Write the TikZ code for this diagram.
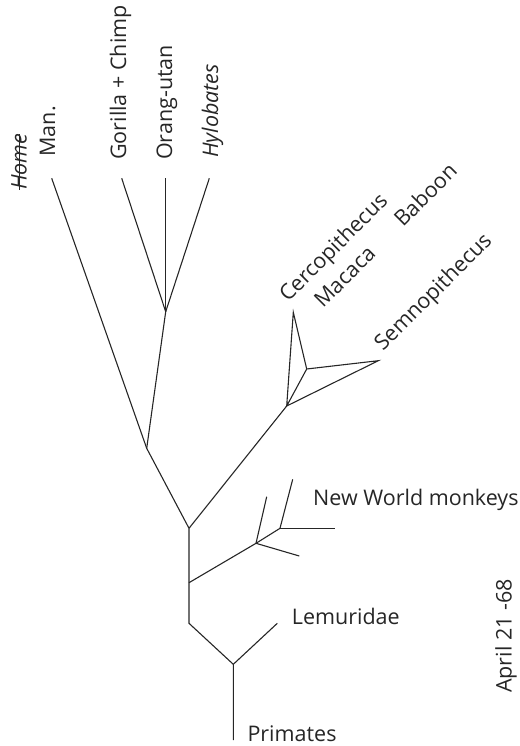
\documentclass[tikz,border=0pt]{standalone}
\usepackage{fontspec}
\setmainfont{Open Sans}
\begin{document}
\begin{tikzpicture}[x=1pt,y=-1pt,
  branch/.style={line width=1.1pt,draw=black!85},
  taxon/.style={inner sep=0pt,font=\fontsize{21.5}{24}\selectfont,text=black!85},
  up/.style={taxon,rotate=90,anchor=base west},
  slant/.style={taxon,rotate=45,anchor=base west},
  flat/.style={taxon,anchor=base west}]
\useasboundingbox (0,0) rectangle (519,746);

% branch points
\coordinate (root)   at (233.3,740);
\coordinate (prim)   at (233.3,664.3);
\coordinate (lemur)  at (277.3,623.3);
\coordinate (stemA)  at (189,623.3);
\coordinate (nwfork) at (189,582.7);
\coordinate (stemB)  at (189,528.3);
\coordinate (nw1)    at (256,543.3);
\coordinate (nw1a)   at (266.7,496.7);
\coordinate (nw2)    at (280,528.3);
\coordinate (nw1b)   at (299.3,556);
\coordinate (nw2a)   at (292.7,479.3);
\coordinate (nw2b)   at (335,528.3);
\coordinate (owm)    at (286.7,406);
\coordinate (owtop)  at (293.3,312.3);
\coordinate (owin)   at (306.7,369);
\coordinate (owright) at (378.3,360.7);
\coordinate (hom)    at (146.7,448.3);
\coordinate (man)    at (51.7,178.3);
\coordinate (apes)   at (165.7,311.7);
\coordinate (gor)    at (121.7,178.3);
\coordinate (ora)    at (165.7,178.3);
\coordinate (hyl)    at (209.3,178.3);

% the tree
\draw[branch] (root) -- (prim) -- (lemur);
\draw[branch] (prim) -- (stemA) -- (nwfork) -- (stemB);
\draw[branch] (nwfork) -- (nw1) -- (nw1a);
\draw[branch] (nw1) -- (nw1b);
\draw[branch] (nw1) -- (nw2) -- (nw2a);
\draw[branch] (nw2) -- (nw2b);
\draw[branch] (stemB) -- (owm);
\draw[branch] (owm) -- (owtop) -- (owin) -- (owright) -- (owm) -- (owin);
\draw[branch] (stemB) -- (hom) -- (man);
\draw[branch] (hom) -- (apes) -- (gor);
\draw[branch] (apes) -- (ora);
\draw[branch] (apes) -- (hyl);

% labels
\node[up] (home) at (26.7,190) {\itshape\sbox0{Home}\rlap{\rule[0.3em]{\wd0}{0.9pt}}\usebox0};
\node[up] (manl) at (55,156.7) {Man.};
\node[up] (gorl) at (126,160) {Gorilla + Chimp};
\node[up] (oral) at (172,160) {Orang-utan};
\node[up] (hyll) at (218,158) {\itshape Hylobates};
\node[slant] (cerc) at (288,303) {Cercopithecus};
\node[slant] (maca) at (323,309) {Macaca};
\node[slant] (babo) at (403,228) {Baboon};
\node[slant] (semn) at (383,352) {Semnopithecus};
\node[flat] (nwl) at (313,505) {New World monkeys};
\node[flat] (leml) at (291.7,624) {Lemuridae};
\node[flat] (priml) at (247.3,741.7) {Primates};
\node[up] (date) at (511.7,693) {April 21 -68};
\end{tikzpicture}
\end{document}
